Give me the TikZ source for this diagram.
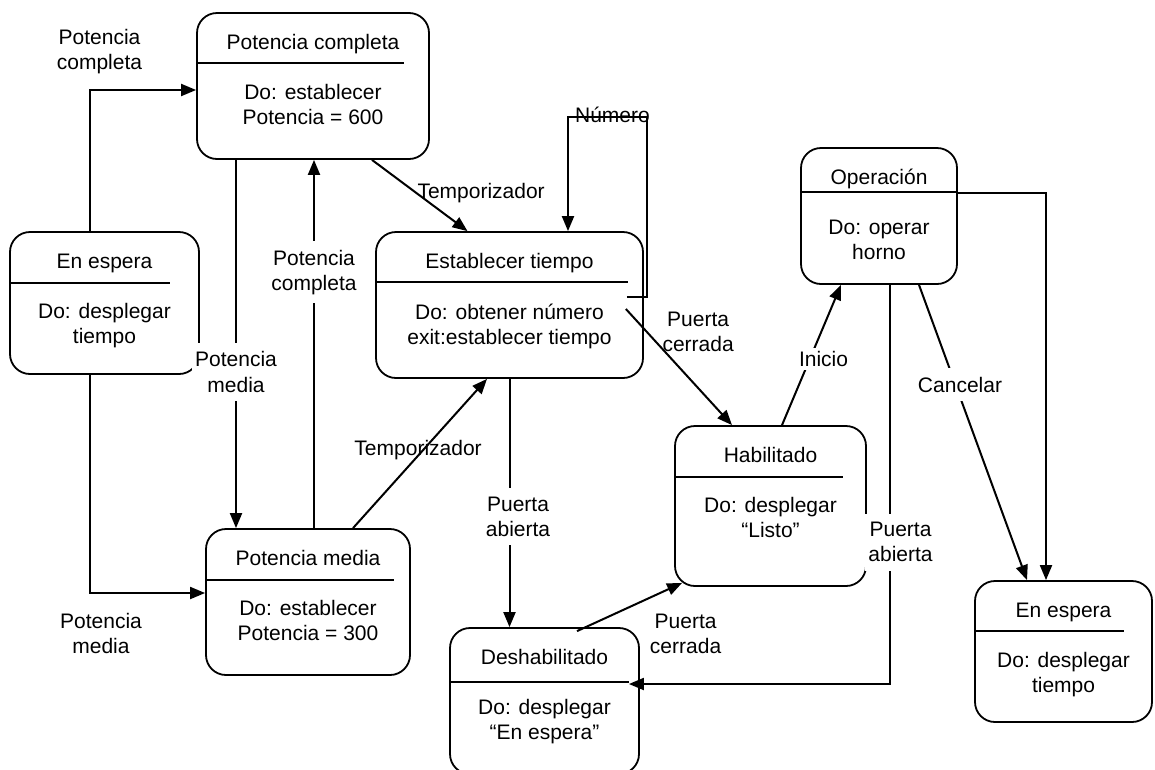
\documentclass[tikz,border=0pt]{standalone}
\usepackage{fontspec}
\setmainfont{Liberation Sans}
\usetikzlibrary{arrows.meta,positioning}

\begin{document}
\begin{tikzpicture}[
    x=1pt, y=-1pt,
    every node/.style={font=\fontsize{21}{25}\selectfont},
    estado/.style={draw, line width=1.8pt, rounded corners=20pt, inner sep=0pt},
    titulo/.style={inner sep=0pt, text height=15pt, text depth=4.5pt},
    cuerpo/.style={inner sep=0pt, align=center},
    arr/.style={-{Triangle[length=15pt,width=12pt]}, line width=2pt},
    etiq/.style={inner sep=0pt, align=center},
    hueco/.style={etiq, fill=white, inner xsep=3pt, inner ysep=9pt}
  ]
    \useasboundingbox (0,0) rectangle (1155,769);

    % estados
    \node[estado, minimum width=232pt, minimum height=146pt] (pc)  at (313,86)      {};
    \node[estado, minimum width=189pt, minimum height=142pt] (ee1) at (104.5,303)   {};
    \node[estado, minimum width=267pt, minimum height=146pt] (et)  at (509.5,305)   {};
    \node[estado, minimum width=156pt, minimum height=136pt] (op)  at (879,216)     {};
    \node[estado, minimum width=191pt, minimum height=160pt] (hab) at (770.5,506)   {};
    \node[estado, minimum width=177pt, minimum height=141pt] (ee2) at (1063.5,651.5) {};
    \node[estado, minimum width=204pt, minimum height=146pt] (pm)  at (308,602)     {};
    \node[estado, minimum width=189pt, minimum height=146pt] (des) at (544.5,701)   {};

    \node[titulo, below=22pt of pc.north]  (pc-t)  {Potencia completa};
    \node[cuerpo, below=30.5pt of pc-t]    (pc-c)  {Do: establecer\\Potencia = 600};
    \node[titulo, below=22pt of ee1.north] (ee1-t) {En espera};
    \node[cuerpo, below=30.5pt of ee1-t]   (ee1-c) {Do: desplegar\\tiempo};
    \node[titulo, below=22pt of et.north]  (et-t)  {Establecer tiempo};
    \node[cuerpo, below=30.5pt of et-t]    (et-c)  {Do: obtener número\\exit:establecer tiempo};
    \node[titulo, below=22pt of op.north]  (op-t)  {Operación};
    \node[cuerpo, below=30.5pt of op-t]    (op-c)  {Do: operar\\horno};
    \node[titulo, below=22pt of hab.north] (hab-t) {Habilitado};
    \node[cuerpo, below=30.5pt of hab-t]   (hab-c) {Do: desplegar\\“Listo”};
    \node[titulo, below=22pt of ee2.north] (ee2-t) {En espera};
    \node[cuerpo, below=30.5pt of ee2-t]   (ee2-c) {Do: desplegar\\tiempo};
    \node[titulo, below=22pt of pm.north]  (pm-t)  {Potencia media};
    \node[cuerpo, below=30.5pt of pm-t]    (pm-c)  {Do: establecer\\Potencia = 300};
    \node[titulo, below=22pt of des.north] (des-t) {Deshabilitado};
    \node[cuerpo, below=30.5pt of des-t]   (des-c) {Do: desplegar\\“En espera”};

    % separadores
    \foreach \s/\dy/\dx in {pc/51/26, ee1/52/30, et/51/16, op/45/0, hab/52/24, ee2/51/29, pm/52/17, des/55/11}
      \draw[line width=1.8pt] ([yshift=-\dy pt]\s.north west) -- ([xshift=-\dx pt, yshift=-\dy pt]\s.north east);

    % transiciones
    \draw[arr] ([xshift=-14.5pt]ee1.north) |- node[etiq, pos=0.5, xshift=9.5pt, yshift=38pt]{Potencia\\completa} ([yshift=-4pt]pc.west);
    \draw[arr] ([xshift=-14.5pt]ee1.south) |- node[etiq, pos=0.5, xshift=11pt, yshift=-40.5pt]{Potencia\\media} ([yshift=9pt]pm.west);
    \draw[arr] ([xshift=-77pt]pc.south) -- node[hueco, pos=0.576]{Potencia\\media} ([xshift=-77pt]pc.south |- pm.north);
    \draw[arr] ([xshift=6pt]pm.north) -- node[hueco, pos=0.695]{Potencia\\completa} ([xshift=6pt]pm.north |- pc.south);
    \draw[arr] ([xshift=59pt]pc.south) -- node[etiq, pos=0.466, anchor=west]{Temporizador} ([xshift=-42pt]et.north);
    \draw[arr] ([xshift=45pt]pm.north) -- node[etiq, pos=0.523, xshift=-5pt]{Temporizador} ([xshift=-22.5pt]et.south);
    \draw[arr] ([xshift=-17pt,yshift=8pt]et.east) -| ++(20,-180) -| node[etiq, pos=0.25, xshift=5pt, yshift=2pt]{Número} ([xshift=58.5pt]et.north);
    \draw[arr] ([xshift=-18pt,yshift=-4pt]et.east) -- node[etiq, pos=0.2, xshift=51pt]{Puerta\\cerrada} ([xshift=-38.5pt]hab.north);
    \draw[arr] (et.south) -- node[hueco, pos=0.554, xshift=8.5pt]{Puerta\\abierta} (et.south |- des.north);
    \draw[arr] ([xshift=32.5pt,yshift=-4pt]des.north) -- node[etiq, pos=0.9, xshift=14pt, yshift=-46pt]{Puerta\\cerrada} ([xshift=8pt,yshift=4pt]hab.south west);
    \draw[arr] ([xshift=11.5pt]hab.north) -- node[hueco, pos=0.472, xshift=13.7pt, inner ysep=3pt]{Inicio} ([xshift=-38pt]op.south);
    \draw[arr] ([xshift=11pt]op.south) |- node[hueco, pos=0.3225, xshift=10.5pt]{Puerta\\abierta} ([xshift=-11pt,yshift=17pt]des.east);
    \draw[arr] ([xshift=40pt]op.south) -- node[hueco, pos=0.338, xshift=4.5pt]{Cancelar} ([xshift=-36.5pt]ee2.north);
    \draw[arr] ([yshift=23pt]op.east) -| ([xshift=-17.5pt]ee2.north);
\end{tikzpicture}
\end{document}
